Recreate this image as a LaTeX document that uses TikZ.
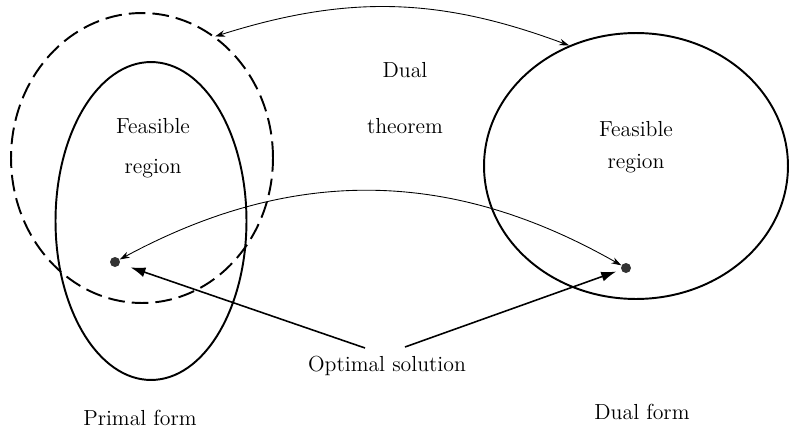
\documentclass[tikz,border=0pt]{standalone}
\usetikzlibrary{shapes.geometric,arrows.meta}
\tikzset{
  region/.style={draw,ellipse,line width=1.1pt,inner sep=0pt},
  optpoint/.style={circle,fill=black!80,inner sep=0pt,minimum size=0.2cm},
  lbl/.style={font=\fontsize{12.4}{15}\selectfont,align=center},
  link/.style={{Stealth[length=2mm,width=1.3mm]}-{Stealth[length=2mm,width=1.3mm]},line width=0.5pt},
  pointer/.style={-{Latex[length=3mm,width=2mm]},line width=0.9pt}
}
\begin{document}
\begin{tikzpicture}[x=0.02cm,y=-0.02cm]
\useasboundingbox (0,0) rectangle (789,430);
\node[region,dash pattern=on 9.5pt off 4pt,minimum width=5.24cm,minimum height=5.8cm] (dualset) at (142,158) {};
\node[region,minimum width=3.82cm,minimum height=6.36cm] (primal) at (151,221) {};
\node[region,minimum width=6.08cm,minimum height=5.32cm] (dual) at (636,166) {};
\node[lbl] (feasP) at (153,148) {Feasible\\[8pt]region};
\node[lbl] (feasD) at (636,147) {Feasible\\[3pt]region};
\node[lbl] (thm) at (405,98) {Dual\\[17pt]theorem};
\node[optpoint] (optP) at (115,262) {};
\node[optpoint] (optD) at (626,268) {};
\node[lbl] (opt) at (387,366) {Optimal solution};
\node[lbl] (primname) at (140,418) {Primal form};
\node[lbl] (dualname) at (642,412) {Dual form};
\coordinate (optL) at (365,348);
\coordinate (optR) at (405,347);
\draw[link] (dualset.59) to[bend left=19] (dual.119);
\draw[link] (optP) to[bend left=29] (optD);
\draw[pointer,shorten >=0.22cm] (optL) -- (optP);
\draw[pointer,shorten >=0.1cm] (optR) -- (optD);
\end{tikzpicture}
\end{document}
